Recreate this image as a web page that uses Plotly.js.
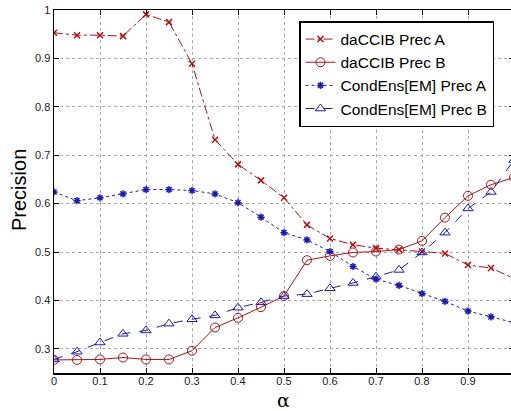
<!DOCTYPE html>
<html>
<head>
<meta charset="utf-8">
<script src="https://cdn.plot.ly/plotly-3.0.1.min.js"></script>
<style>
html, body { margin: 0; padding: 0; overflow: hidden; background: #fff; }
#chart { width: 516px; height: 411px; }
</style>
</head>
<body>
<div id="chart"></div>
<script>
const alpha = [0, 0.05, 0.1, 0.15, 0.2, 0.25, 0.3, 0.35, 0.4, 0.45, 0.5, 0.55, 0.6, 0.65, 0.7, 0.75, 0.8, 0.85, 0.9, 0.95, 1.0];
const daCCIB_PrecA = [0.953, 0.948, 0.948, 0.946, 0.991, 0.975, 0.889, 0.732, 0.681, 0.648, 0.612, 0.556, 0.528, 0.515, 0.508, 0.505, 0.501, 0.497, 0.473, 0.467, 0.445];
const daCCIB_PrecB = [0.277, 0.277, 0.278, 0.282, 0.278, 0.278, 0.296, 0.344, 0.364, 0.386, 0.409, 0.483, 0.492, 0.499, 0.501, 0.505, 0.523, 0.571, 0.616, 0.639, 0.654];
const condEns_PrecA = [0.624, 0.606, 0.612, 0.620, 0.629, 0.629, 0.627, 0.620, 0.602, 0.572, 0.540, 0.525, 0.501, 0.470, 0.444, 0.431, 0.414, 0.398, 0.378, 0.366, 0.354];
const condEns_PrecB = [0.278, 0.294, 0.313, 0.331, 0.338, 0.352, 0.361, 0.369, 0.385, 0.396, 0.409, 0.413, 0.425, 0.436, 0.449, 0.463, 0.499, 0.540, 0.590, 0.624, 0.690];
const seriesNames = ["daCCIB Prec A", "daCCIB Prec B", "CondEns[EM] Prec A", "CondEns[EM] Prec B"];
const xTickVals = [0, 0.1, 0.2, 0.3, 0.4, 0.5, 0.6, 0.7, 0.8, 0.9];
const xTickText = ["0", "0.1", "0.2", "0.3", "0.4", "0.5", "0.6", "0.7", "0.8", "0.9"];
const yTickVals = [0.3, 0.4, 0.5, 0.6, 0.7, 0.8, 0.9, 1];
const yTickText = ["0.3", "0.4", "0.5", "0.6", "0.7", "0.8", "0.9", "1"];

const RED = "#a81414";
const BLUE = "#1c1caa";

const traces = [
  { x: alpha, y: daCCIB_PrecA, name: seriesNames[0], mode: "lines+markers",
    line: { color: RED, width: 1, dash: "dashdot" },
    marker: { symbol: "x-thin-open", size: 6, color: RED, line: { color: RED, width: 1.5 } } },
  { x: alpha, y: daCCIB_PrecB, name: seriesNames[1], mode: "lines+markers",
    line: { color: RED, width: 1 },
    marker: { symbol: "circle-open", size: 9, color: RED, line: { color: RED, width: 1 } } },
  { x: alpha, y: condEns_PrecA, name: seriesNames[2], mode: "lines+markers",
    line: { color: BLUE, width: 1, dash: "dot" },
    marker: { symbol: "asterisk-open", size: 6, color: BLUE, line: { color: BLUE, width: 1.5 } } },
  { x: alpha, y: condEns_PrecB, name: seriesNames[3], mode: "lines+markers",
    line: { color: BLUE, width: 1, dash: "dash" },
    marker: { symbol: "triangle-up-open", size: 9, color: BLUE, line: { color: BLUE, width: 1 } } }
];

const axisCommon = {
  showline: true, linecolor: "#000", linewidth: 1.5, mirror: "ticks",
  ticks: "inside", ticklen: 5, tickcolor: "#000", tickwidth: 1,
  showgrid: true, gridcolor: "#a8a8a8", gridwidth: 1, griddash: "dot",
  zeroline: false,
  tickfont: { family: "Liberation Sans, Arial, sans-serif", size: 11, color: "#222" }
};

const W = 516, H = 411, L = 54, R = 2, T = 10, B = 38;
const pw = W - L - R, ph = H - T - B;
function px(xp) { return (xp - L) / pw; }
function py(yp) { return (H - B - yp) / ph; }

const layout = {
  width: W, height: H,
  margin: { l: L, r: R, t: T, b: B, pad: 0 },
  paper_bgcolor: "#fff", plot_bgcolor: "#fff",
  font: { family: "Liberation Sans, Arial, sans-serif", color: "#000" },
  xaxis: Object.assign({}, axisCommon, { range: [0, 1], tickvals: xTickVals, ticktext: xTickText, ticklabelstandoff: -3 }),
  yaxis: Object.assign({}, axisCommon, { range: [0.25, 1], tickvals: yTickVals, ticktext: yTickText, ticklabelstandoff: 0 }),
  showlegend: true,
  legend: {
    x: px(299), y: py(21), xanchor: "left", yanchor: "top",
    bgcolor: "#fff", bordercolor: "#000", borderwidth: 1.5,
    font: { family: "Liberation Sans, Arial, sans-serif", size: 15.5, color: "#000" },
    tracegroupgap: 0, itemwidth: 30
  },
  annotations: [
    { text: "Precision", xref: "paper", yref: "paper", x: px(19), y: py(190),
      xanchor: "center", yanchor: "middle", textangle: -90, showarrow: false,
      font: { family: "Liberation Sans, Arial, sans-serif", size: 20, color: "#000" } },
    { text: "α", xref: "paper", yref: "paper", x: px(283), y: py(399.5),
      xanchor: "center", yanchor: "middle", showarrow: false, borderpad: 0,
      font: { family: "DejaVu Serif, serif", size: 19, color: "#000" } }
  ]
};

Plotly.newPlot("chart", traces, layout, { staticPlot: true, displayModeBar: false });
</script>
</body>
</html>
